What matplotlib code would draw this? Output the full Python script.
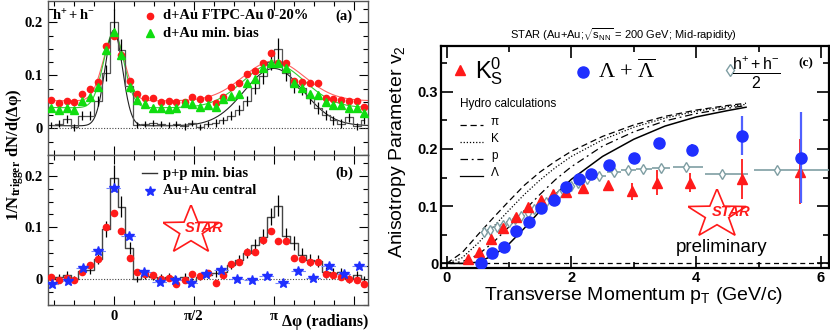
import numpy as np
import matplotlib
matplotlib.use("Agg")
import matplotlib.pyplot as plt
from matplotlib.patches import Polygon
from matplotlib.ticker import FixedLocator, MultipleLocator

plt.rcParams['font.family'] = ['Liberation Sans', 'DejaVu Sans']
plt.rcParams['mathtext.fontset'] = 'custom'
plt.rcParams['mathtext.rm'] = 'Liberation Sans'
plt.rcParams['mathtext.it'] = 'Liberation Sans:italic'
plt.rcParams['mathtext.bf'] = 'Liberation Serif:bold'
plt.rcParams['mathtext.sf'] = 'Liberation Serif'

# ---- left panels: azimuthal correlations ----
dphi = [-1.23, -1.08, -0.92, -0.77, -0.62, -0.46, -0.31, -0.15, 0.00, 0.15,
        0.31, 0.46, 0.62, 0.77, 0.92, 1.08, 1.23, 1.39, 1.54, 1.69,
        1.85, 2.00, 2.15, 2.31, 2.46, 2.62, 2.77, 2.92, 3.08, 3.23,
        3.39, 3.54, 3.69, 3.85, 4.00, 4.16, 4.31, 4.46, 4.62, 4.77, 4.92]

dau_central_a = [0.054, 0.048, 0.052, 0.049, 0.064, 0.075, 0.087, 0.155, 0.174, 0.138,
                 0.090, 0.065, 0.057, 0.057, 0.049, 0.052, 0.049, 0.050, 0.059, 0.056,
                 0.058, 0.047, 0.060, 0.078, 0.085, 0.102, 0.109, 0.124, 0.143, 0.123,
                 0.123, 0.089, 0.087, 0.085, 0.086, 0.058, 0.056, 0.054, 0.052, 0.052, 0.041]
dau_minbias_a = [0.039, 0.035, 0.038, 0.035, 0.052, 0.059, 0.078, 0.148, 0.181, 0.138,
                 0.078, 0.054, 0.046, 0.039, 0.039, 0.036, 0.039, 0.047, 0.046, 0.041,
                 0.044, 0.041, 0.056, 0.061, 0.065, 0.086, 0.094, 0.114, 0.123, 0.123,
                 0.114, 0.086, 0.076, 0.064, 0.063, 0.049, 0.044, 0.044, 0.038, 0.038, 0.030]
pp_a = [0.006, 0.009, 0.018, 0.002, 0.024, 0.024, 0.052, 0.104, 0.200, 0.148,
        0.080, 0.006, 0.008, 0.010, 0.008, 0.006, 0.008, 0.004, 0.010, 0.003,
        0.008, 0.010, 0.015, 0.024, 0.035, 0.052, 0.076, 0.098, 0.126, 0.150,
        0.104, 0.080, 0.076, 0.058, 0.039, 0.025, 0.015, 0.009, 0.021, 0.004, 0.015]
pp_b = [0.002, 0.004, 0.008, 0.000, 0.016, 0.017, 0.039, 0.097, 0.196, 0.140,
        0.060, 0.000, 0.006, 0.005, 0.003, 0.005, 0.000, 0.005, -0.003, 0.005,
        0.008, 0.012, 0.013, 0.027, 0.037, 0.050, 0.066, 0.082, 0.121, 0.142,
        0.084, 0.070, 0.047, 0.037, 0.035, 0.013, 0.012, 0.013, 0.000, 0.008, 0.000]
pp_err = [0.006, 0.006, 0.007, 0.006, 0.008, 0.008, 0.010, 0.015, 0.025, 0.020,
          0.012, 0.006, 0.006, 0.006, 0.006, 0.006, 0.006, 0.006, 0.006, 0.006,
          0.006, 0.007, 0.007, 0.008, 0.009, 0.010, 0.012, 0.014, 0.016, 0.020,
          0.015, 0.014, 0.013, 0.012, 0.011, 0.010, 0.009, 0.008, 0.008, 0.007, 0.006]
dau_central_b = [0.005, -0.002, 0.003, -0.002, 0.014, 0.027, 0.038, 0.100, 0.128, 0.094,
                 0.041, 0.014, 0.010, 0.008, 0.001, 0.003, -0.010, -0.002, 0.010, 0.007,
                 0.011, -0.007, 0.008, 0.029, 0.034, 0.052, 0.052, 0.076, 0.093, 0.073,
                 0.074, 0.040, 0.038, 0.034, 0.034, 0.009, 0.008, 0.004, 0.001, -0.002, -0.010]

auau_dphi = [-1.21, -0.90, -0.60, -0.30, 0.00, 0.30, 0.60, 0.90, 1.21, 1.51, 1.81,
             2.11, 2.41, 2.71, 3.01, 3.32, 3.62, 3.92, 4.22, 4.52, 4.82]
auau_central = [-0.010, -0.004, 0.021, 0.054, 0.177, 0.084, 0.014, -0.005, -0.002, -0.008, 0.010,
                0.017, 0.000, -0.002, 0.006, -0.008, 0.016, 0.003, 0.025, 0.009, 0.025]

# gaussian fit parameters (d+Au central, d+Au min. bias, p+p)
fit_pedestal = [0.052, 0.039, 0.005]
fit_near_amp = [0.123, 0.142, 0.180]
fit_near_sigma = [0.21, 0.20, 0.17]
fit_away_amp = [0.075, 0.083, 0.108]
fit_away_sigma = [0.60, 0.60, 0.58]

# ---- right panel: v2 vs pT ----
k0s_pt = [0.34, 0.52, 0.71, 0.91, 1.11, 1.31, 1.51, 1.70, 1.91, 2.19, 2.58, 2.97, 3.38, 3.90, 4.73, 5.67]
k0s_v2 = [0.008, 0.020, 0.042, 0.062, 0.081, 0.099, 0.111, 0.122, 0.125, 0.131, 0.137, 0.126, 0.141, 0.141, 0.147, 0.160]
k0s_err = [0.002, 0.002, 0.002, 0.002, 0.002, 0.002, 0.002, 0.003, 0.003, 0.004, 0.006, 0.015, 0.022, 0.017, 0.035, 0.057]

lam_pt = [0.55, 0.72, 0.92, 1.12, 1.32, 1.52, 1.72, 1.91, 2.12, 2.31, 2.60, 3.00, 3.40, 3.93, 4.73, 5.68]
lam_v2 = [0.001, 0.019, 0.028, 0.056, 0.073, 0.096, 0.111, 0.134, 0.147, 0.156, 0.172, 0.185, 0.210, 0.198, 0.223, 0.185]
lam_err = [0.002, 0.002, 0.002, 0.002, 0.002, 0.002, 0.002, 0.003, 0.003, 0.004, 0.005, 0.006, 0.009, 0.011, 0.034, 0.080]

hch_pt = [0.6, 0.7, 0.8, 0.9, 1.0, 1.1, 1.2, 1.3, 1.4, 1.5, 1.6, 1.7, 1.8, 1.9, 2.0, 2.1,
          2.25, 2.45, 2.69, 2.91, 3.15, 3.43, 3.84, 4.41, 5.29]
hch_v2 = [0.055, 0.059, 0.064, 0.068, 0.073, 0.078, 0.083, 0.089, 0.095, 0.101, 0.107, 0.114,
          0.121, 0.128, 0.135, 0.141, 0.147, 0.153, 0.160, 0.163, 0.165, 0.166, 0.168, 0.156, 0.163]
hch_xlo = [0.05] * 16 + [0.075, 0.1, 0.12, 0.11, 0.12, 0.14, 0.21, 0.27, 0.37]
hch_xhi = [0.05] * 16 + [0.075, 0.1, 0.11, 0.12, 0.14, 0.15, 0.27, 0.42, 0.84]

hydro_pt = [0.0, 0.25, 0.5, 0.75, 1.0, 1.25, 1.5, 1.75, 2.0, 2.5, 3.0, 3.5, 4.0, 4.5, 4.8]
hydro_pion = [0.0, 0.019, 0.050, 0.080, 0.109, 0.137, 0.160, 0.179, 0.196, 0.222, 0.242, 0.257, 0.268, 0.276, 0.280]
hydro_kaon = [0.0, 0.010, 0.035, 0.064, 0.093, 0.121, 0.146, 0.168, 0.187, 0.216, 0.238, 0.254, 0.266, 0.274, 0.278]
hydro_proton = [0.0, 0.003, 0.015, 0.037, 0.064, 0.093, 0.121, 0.147, 0.169, 0.205, 0.230, 0.249, 0.262, 0.271, 0.276]
hydro_lambda = [0.0, 0.0, 0.002, 0.014, 0.034, 0.062, 0.092, 0.121, 0.147, 0.187, 0.217, 0.240, 0.256, 0.267, 0.273]

RED = '#ff1a1a'
GREEN = '#10dd10'
BLUE = '#1f2fff'
GREY = '#7f9ea3'
serif_bold = dict(fontfamily='Liberation Serif', fontweight='bold')

fig = plt.figure(figsize=(8.3, 3.31), dpi=100)
axa = fig.add_axes([48 / 830, 1 - 155 / 331, 320 / 830, 154 / 331])
axb = fig.add_axes([48 / 830, 1 - 305 / 331, 320 / 830, 150 / 331], sharex=axa)
axc = fig.add_axes([441 / 830, 1 - 268 / 331, 388 / 830, 222 / 331])


def star_logo(cx, cy, w, h):
    ins = fig.add_axes([cx / 830 - w / 1660, 1 - cy / 331 - h / 662, w / 830, h / 331])
    ins.axis('off')
    ins.set_xlim(-0.96, 0.96)
    ins.set_ylim(-0.82, 1.01)
    ang = np.pi / 2 + np.arange(10) * np.pi / 5
    rad = np.where(np.arange(10) % 2 == 0, 1.0, 0.40)
    pts = np.column_stack([rad * np.cos(ang), rad * np.sin(ang)])
    ins.add_patch(Polygon(pts, closed=True, fill=False, ec=RED, lw=1.2))
    ins.text(0.45, 0.08, 'STAR', color=RED, fontsize=10.5, fontweight='bold',
             style='italic', ha='center', va='center', clip_on=False)


for ax in (axa, axb):
    ax.set_xlim(-1.29, 4.99)
    ax.set_ylim(-0.05, 0.24)
    ax.xaxis.set_major_locator(FixedLocator([0, np.pi / 2, np.pi, 3 * np.pi / 2]))
    ax.xaxis.set_minor_locator(MultipleLocator(np.pi / 8))
    ax.yaxis.set_major_locator(FixedLocator([0, 0.1, 0.2]))
    ax.yaxis.set_minor_locator(MultipleLocator(0.025))
    ax.tick_params(which='both', direction='in', top=True, right=True, width=0.8)
    ax.tick_params(which='major', length=6.5)
    ax.tick_params(which='minor', length=3.5)
    ax.set_yticklabels(['0', '0.1', '0.2'], fontsize=10.5, **serif_bold)
    ax.axhline(0, color='#444444', ls=(0, (1, 1.5)), lw=0.8)
    for s in ax.spines.values():
        s.set_linewidth(1.0)
        s.set_color('#555555')

axa.tick_params(labelbottom=False)
axb.set_xticklabels(['0', 'π/2', 'π', ''], fontsize=10.5, **serif_bold)

# panel (a)
xf = np.linspace(-1.29, 4.99, 600)
for i, col in enumerate(['#ff6060', '#33cc33', '#222222']):
    yf = np.full_like(xf, fit_pedestal[i])
    for sh in (-2 * np.pi, 0, 2 * np.pi):
        yf += fit_near_amp[i] * np.exp(-(xf - sh) ** 2 / (2 * fit_near_sigma[i] ** 2))
        yf += fit_away_amp[i] * np.exp(-(xf - np.pi - sh) ** 2 / (2 * fit_away_sigma[i] ** 2))
    axa.plot(xf, yf, color=col, lw=0.8, zorder=2)

axa.step(dphi, pp_a, where='mid', color='#555555', lw=0.9, zorder=3)
axa.errorbar(dphi, pp_a, yerr=pp_err, fmt='none', ecolor='black', elinewidth=0.9, zorder=3)
axa.errorbar(dphi, dau_central_a, yerr=0.005, fmt='o', color=RED, ms=4.5,
             ecolor='#ff8080', elinewidth=0.8, zorder=4)
axa.errorbar(dphi, dau_minbias_a, yerr=0.004, fmt='^', color=GREEN, ms=6,
             ecolor='#80ee80', elinewidth=0.8, zorder=5)

axa.text(0.0125, 0.903, r'$\mathbf{h^{+}+h^{-}}$', transform=axa.transAxes, fontsize=10.5,
         va='center', ha='left')
axa.plot([0.319], [0.903], 'o', color=RED, ms=4.5, transform=axa.transAxes)
axa.text(0.359, 0.903, 'd+Au FTPC-Au 0-20%', transform=axa.transAxes, fontsize=10.5,
         va='center', ha='left', **serif_bold)
axa.plot([0.319], [0.792], '^', color=GREEN, ms=6, transform=axa.transAxes)
axa.text(0.359, 0.792, 'd+Au min. bias', transform=axa.transAxes, fontsize=10.5,
         va='center', ha='left', **serif_bold)
axa.text(0.953, 0.903, '(a)', transform=axa.transAxes, fontsize=10.5, va='center', ha='right',
         **serif_bold)

# panel (b)
axb.step(dphi, pp_b, where='mid', color='#444444', lw=1.0, zorder=3)
axb.errorbar(dphi, pp_b, yerr=pp_err, fmt='none', ecolor='black', elinewidth=0.9, zorder=3)
axb.errorbar(dphi, dau_central_b, yerr=0.005, fmt='o', color=RED, ms=4.5,
             ecolor='#ff8080', elinewidth=0.8, zorder=4)
axb.hlines(auau_central, np.array(auau_dphi) - 0.15, np.array(auau_dphi) + 0.15,
           colors='#7080ff', linestyles=(0, (3, 2)), lw=0.8, zorder=4)
axb.plot(auau_dphi, auau_central, '*', color=BLUE, ms=7, ls='none', zorder=5)

axb.plot([0.295, 0.34], [0.878, 0.878], color='#333333', lw=1.0, transform=axb.transAxes)
axb.text(0.359, 0.878, 'p+p min. bias', transform=axb.transAxes, fontsize=10.5,
         va='center', ha='left', **serif_bold)
axb.plot([0.319], [0.762], '*', color=BLUE, ms=7, transform=axb.transAxes)
axb.text(0.359, 0.762, 'Au+Au central', transform=axb.transAxes, fontsize=10.5,
         va='center', ha='left', **serif_bold)
axb.text(0.953, 0.878, '(b)', transform=axb.transAxes, fontsize=10.5, va='center', ha='right',
         **serif_bold)

fig.text(15 / 830, 1 - 155 / 331, r'$\mathbf{1/N_{trigger}\ dN/d(Δφ)}$', rotation=90,
         fontsize=12, va='center', ha='center')
fig.text(368 / 830, 1 - 322 / 331, 'Δφ (radians)', fontsize=11.5, va='center', ha='right',
         **serif_bold)
star_logo(191, 228, 57, 47)

# panel (c)
axc.set_xlim(-0.09, 6.13)
axc.set_ylim(-0.008, 0.38)
axc.xaxis.set_major_locator(FixedLocator([0, 2, 4, 6]))
axc.xaxis.set_minor_locator(MultipleLocator(1))
axc.yaxis.set_major_locator(FixedLocator([0, 0.1, 0.2, 0.3]))
axc.yaxis.set_minor_locator(MultipleLocator(0.05))
axc.tick_params(which='both', direction='in', top=True, right=True, width=1.2)
axc.tick_params(which='major', length=8.5, pad=2)
axc.tick_params(which='minor', length=4.5)
axc.set_xticklabels(['0', '2', '4', '6'], fontsize=10.5, fontweight='bold')
axc.set_yticklabels(['0', '0.1', '0.2', '0.3'], fontsize=10.5, fontweight='bold')
for s in axc.spines.values():
    s.set_linewidth(1.6)

axc.axhline(0, color='black', ls=(0, (4, 3)), lw=0.9)
axc.plot(hydro_pt, hydro_pion, color='black', lw=0.9, ls=(0, (5, 3)))
axc.plot(hydro_pt, hydro_kaon, color='black', lw=0.9, ls=(0, (1, 1.5)))
axc.plot(hydro_pt, hydro_proton, color='black', lw=0.9, ls=(0, (6, 3, 1.5, 3)))
axc.plot(hydro_pt, hydro_lambda, color='black', lw=1.1)

axc.errorbar(hch_pt, hch_v2, xerr=[hch_xlo, hch_xhi], yerr=0.002, fmt='d', mfc='white',
             mec=GREY, ecolor=GREY, ms=5, mew=1.0, elinewidth=1.2, zorder=3)
axc.errorbar(k0s_pt, k0s_v2, yerr=k0s_err, fmt='^', color=RED, ms=7.5, ecolor=RED,
             elinewidth=1.3, zorder=4)
axc.errorbar(lam_pt, lam_v2, yerr=lam_err, fmt='o', color=BLUE, ms=8, ecolor='#5060ff',
             elinewidth=1.6, zorder=5)

axc.plot([0.049], [0.892], '^', color=RED, ms=7.5, transform=axc.transAxes)
axc.text(0.088, 0.885, r'$\mathrm{K^0_S}$', transform=axc.transAxes, fontsize=17,
         va='center', ha='left')
axc.plot([0.366], [0.883], 'o', color=BLUE, ms=8, transform=axc.transAxes)
axc.text(0.405, 0.885, r'$\mathsf{Λ}$ + $\mathsf{\overline{Λ}}$', transform=axc.transAxes,
         fontsize=16, fontfamily='Liberation Serif', va='center', ha='left')
axc.plot([0.745], [0.892], 'd', mfc='white', mec=GREY, ms=6, transform=axc.transAxes)
axc.text(0.812, 0.877, r'$\frac{\mathrm{h^{+}+h^{-}}}{\mathrm{2}}$', transform=axc.transAxes,
         fontsize=16.5, va='center', ha='center')
axc.text(0.94, 0.923, '(c)', transform=axc.transAxes, fontsize=9.5, va='center', ha='center',
         **serif_bold)

axc.text(0.049, 0.739, 'Hydro calculations', transform=axc.transAxes, fontsize=8.5,
         va='center', ha='left')
for yy, ls, lab in [(0.644, (0, (5, 3)), 'π'), (0.568, (0, (1, 1.5)), 'K'),
                    (0.491, (0, (6, 3, 1.5, 3)), 'p'), (0.414, '-', 'Λ')]:
    axc.plot([0.049, 0.108], [yy, yy], color='black', lw=0.9, ls=ls, transform=axc.transAxes)
    axc.text(0.129, yy + 0.012, lab, transform=axc.transAxes, fontsize=8.5, va='center', ha='left')

star_logo(717, 212, 59, 47)
fig.text(722 / 830, 1 - 247 / 331, 'preliminary', fontsize=13.5, ha='center', va='center')

fig.text(623 / 830, 1 - 35 / 331, r'STAR (Au+Au;$\sqrt{\mathrm{s_{NN}}}$ = 200 GeV; Mid-rapidity)',
         fontsize=8, ha='center', va='center')
fig.text(397 / 830, 1 - 152 / 331, r'Anisotropy Parameter v$_\mathrm{2}$', rotation=90,
         fontsize=14, ha='center', va='center')
fig.text(634 / 830, 1 - 296 / 331, r'Transverse Momentum p$_\mathrm{T}$ (GeV/c)',
         fontsize=14, ha='center', va='center')

fig.savefig('out.png', dpi=100)
